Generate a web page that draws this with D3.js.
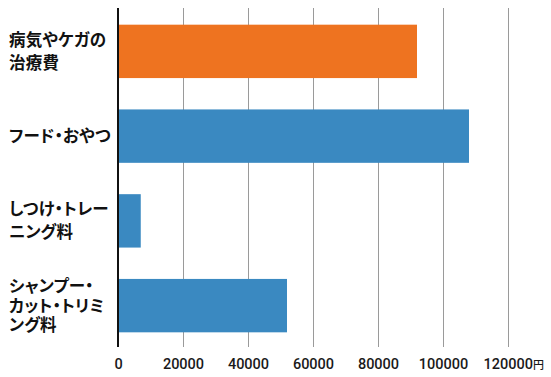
<!DOCTYPE html>
<html lang="ja">
<head>
  <meta charset="UTF-8">
  <script src="https://cdn.jsdelivr.net/npm/d3@7"></script>
  <title>ペットの費用</title>
  <style>
    body { margin: 0; background: #fff; }
    svg text { font-family: "Noto Sans CJK JP", "Noto Sans", sans-serif; }
    text.cat { font-feature-settings: "palt"; letter-spacing: 0.2px; }
  </style>
</head>
<body>
  <svg width="551" height="377" id="chart"></svg>
  <script>
    // data
    const categories = [
      ["病気やケガの", "治療費"],
      ["フード・おやつ"],
      ["しつけ・トレー", "ニング料"],
      ["シャンプー・", "カット・トリミ", "ング料"]
    ];
    const values = [92000, 108000, 7000, 52000];
    const tickValues = [0, 20000, 40000, 60000, 80000, 100000, 120000];
    const unit = "円";

    let svg = d3.select("#chart");

    /* SCALES */
    let x = d3.scaleLinear().domain([0, 120000]).range([118, 508]);
    let y = d3.scaleBand()
      .domain(d3.range(categories.length))
      .range([9, 348])
      .paddingInner(0.37)
      .paddingOuter(0.185);

    /* GRID (axis ticks stretched up) */
    let axisX = d3.axisBottom(x)
      .tickValues(tickValues)
      .tickSize(339)
      .tickPadding(12)
      .tickFormat(d => d);

    let gx = svg.append("g")
      .attr("transform", "translate(0,8)")
      .call(axisX);
    gx.select(".domain").remove();
    gx.selectAll(".tick line").attr("stroke", "#9a9a9a").attr("stroke-width", 1);
    gx.selectAll(".tick text")
      .attr("fill", "#1a1a1a")
      .style("font-family", "Roboto, sans-serif")
      .style("font-weight", "500")
      .style("font-size", "14.5px");
    // unit after last tick
    let last = gx.selectAll(".tick").filter(d => d === 120000).select("text");
    last.append("tspan")
      .attr("font-size", "11px")
      .style("font-family", "'Noto Sans CJK JP', sans-serif")
      .text(unit);
    last.attr("text-anchor", "start").attr("x", -25);

    /* BARS */
    svg.selectAll("rect.bar")
      .data(values)
      .enter()
      .append("rect")
      .attr("class", "bar")
      .attr("x", x(0))
      .attr("y", (d, i) => y(i))
      .attr("width", d => x(d) - x(0))
      .attr("height", y.bandwidth())
      .attr("fill", (d, i) => i === 0 ? "#ee7320" : "#3a89c1");

    /* BASELINE */
    svg.append("line")
      .attr("x1", x(0)).attr("x2", x(0))
      .attr("y1", 8).attr("y2", 347)
      .attr("stroke", "#111")
      .attr("stroke-width", 2);

    /* CATEGORY LABELS */
    let labels = svg.selectAll("text.cat")
      .data(categories)
      .enter()
      .append("text")
      .attr("class", "cat")
      .attr("x", 9)
      .attr("fill", "#111")
      .style("font-size", "16.5px")
      .style("font-weight", "bold");

    labels.each(function(lines, i) {
      let lh = lines.length > 2 ? 19.5 : 23;
      let cy = y(i) + y.bandwidth() / 2;
      let top = cy - (lines.length - 1) * lh / 2;
      d3.select(this).selectAll("tspan")
        .data(lines)
        .enter()
        .append("tspan")
        .attr("x", 9)
        .attr("y", (d, j) => top + j * lh)
        .attr("dy", "0.36em")
        .text(d => d);
    });
  </script>
</body>
</html>
